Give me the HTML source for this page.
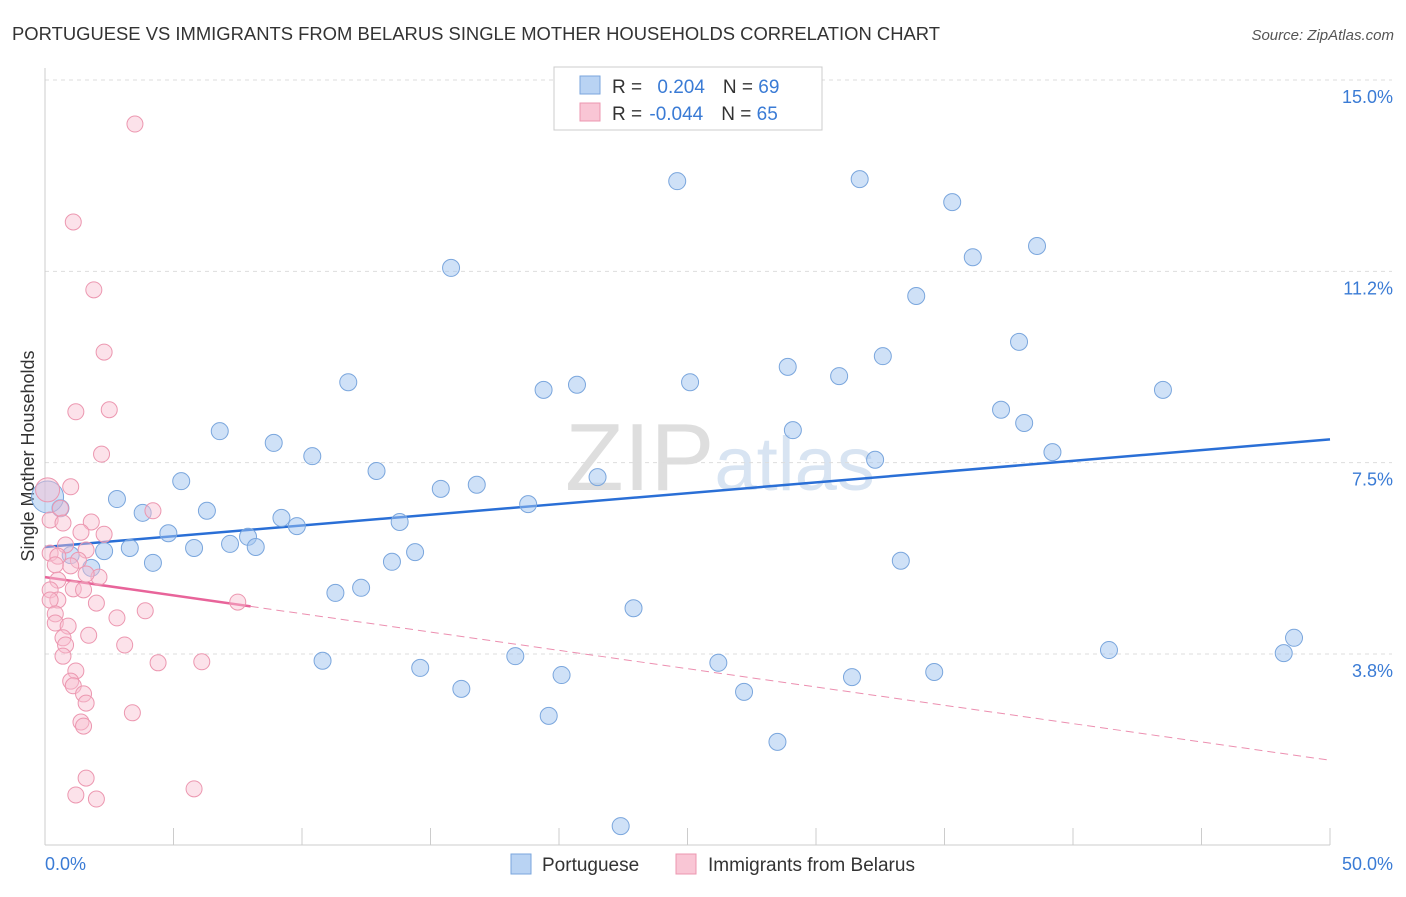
<!DOCTYPE html>
<html><head><meta charset="utf-8"><style>
body{margin:0;background:#fff;font-family:"Liberation Sans",sans-serif;}
svg text{font-family:"Liberation Sans",sans-serif;}
</style></head><body>
<svg id="chart" width="1406" height="892" xmlns="http://www.w3.org/2000/svg">
<text x="12" y="40" font-size="18" fill="#333" textLength="928" lengthAdjust="spacingAndGlyphs">PORTUGUESE VS IMMIGRANTS FROM BELARUS SINGLE MOTHER HOUSEHOLDS CORRELATION CHART</text>
<text x="1394" y="40" font-size="15" fill="#555" font-style="italic" text-anchor="end">Source: ZipAtlas.com</text>
<text x="720" y="490" font-size="96" fill="#e4e4e4" text-anchor="middle" font-family="Liberation Serif"><tspan fill="#dedede">ZIP</tspan><tspan fill="#d8e4f2" font-family="Liberation Sans" font-size="76">atlas</tspan></text>
<text transform="translate(34,456) rotate(-90)" font-size="18" fill="#333" text-anchor="middle">Single Mother Households</text>
<g id="grid"></g><g id="axes"></g><g id="trend"></g><g id="pts"></g>
<g>
<rect x="554" y="67" width="268" height="63" fill="#fff" stroke="#ccc"/>
<rect x="580" y="76" width="20" height="18" fill="#b9d3f3" stroke="#7aa6dd"/>
<rect x="580" y="103" width="20" height="18" fill="#f9c6d5" stroke="#ec97b0"/>
<text x="612" y="93" font-size="19" fill="#333">R = <tspan fill="#3a7bd5" dx="10">0.204</tspan><tspan dx="18">N = </tspan><tspan fill="#3a7bd5">69</tspan></text>
<text x="612" y="120" font-size="19" fill="#333">R = <tspan fill="#3a7bd5" dx="2">-0.044</tspan><tspan dx="18">N = </tspan><tspan fill="#3a7bd5">65</tspan></text>
</g>
<g>
<rect x="511" y="854" width="20" height="20" fill="#b9d3f3" stroke="#7aa6dd"/>
<text x="542" y="871" font-size="19" fill="#333">Portuguese</text>
<rect x="676" y="854" width="20" height="20" fill="#f9c6d5" stroke="#ec97b0"/>
<text x="708" y="871" font-size="19" fill="#333">Immigrants from Belarus</text>
</g>
</svg>
<script>
const xTicks=[0,5,10,15,20,25,30,35,40,45,50];
const yTicks=[15,11.25,7.5,3.75];
const yTickLabels=["15.0%","11.2%","7.5%","3.8%"];
const blueX=[24.6,31.7,35.3,38.6,15.8,36.1,33.9,37.9,32.6,28.9,30.9,11.8,19.4,20.7,25.1,43.5,37.2,38.1,29.1,6.8,8.9,10.4,39.2,32.3,12.9,5.3,21.5,15.4,16.8,2.8,18.8,3.8,6.3,9.2,9.8,13.8,4.8,7.9,7.2,8.2,5.8,3.3,2.3,1.0,14.4,13.5,4.2,33.3,1.8,12.3,11.3,22.9,48.6,41.4,48.2,18.3,10.8,26.2,14.6,20.1,31.4,34.6,16.2,27.2,19.6,28.5,22.4,0.6,0.1];
const blueY=[13.35,13.39,12.94,12.08,11.65,11.86,11.1,10.2,9.92,9.71,9.53,9.41,9.26,9.36,9.41,9.26,8.87,8.61,8.47,8.45,8.22,7.96,8.04,7.89,7.67,7.47,7.55,7.32,7.40,7.12,7.02,6.85,6.89,6.75,6.59,6.67,6.45,6.38,6.24,6.18,6.16,6.16,6.10,6.02,6.08,5.89,5.87,5.91,5.77,5.38,5.28,4.98,4.4,4.16,4.10,4.04,3.95,3.91,3.81,3.67,3.63,3.73,3.40,3.34,2.87,2.36,0.71,6.94,7.16];
const pinkX=[3.5,1.1,1.9,2.3,2.5,1.2,2.2,1.0,4.2,0.6,0.2,0.7,1.8,2.3,1.4,0.8,1.6,0.2,0.5,1.3,1.0,0.4,2.1,0.5,1.6,1.1,0.2,1.5,0.5,0.2,2.0,3.9,7.5,0.4,2.8,0.4,0.9,1.7,0.7,0.8,3.1,0.7,4.4,6.1,1.2,1.0,1.1,1.5,1.6,3.4,1.4,1.5,1.6,1.2,2.0,5.8,0.1];
const pinkY=[14.47,12.55,11.22,10.0,8.87,8.83,8.0,7.36,6.89,6.94,6.71,6.65,6.67,6.43,6.47,6.22,6.12,6.06,6.0,5.92,5.81,5.83,5.59,5.53,5.65,5.36,5.34,5.34,5.14,5.14,5.08,4.93,5.10,4.87,4.79,4.69,4.63,4.45,4.40,4.26,4.26,4.04,3.91,3.93,3.75,3.55,3.46,3.30,3.12,2.93,2.75,2.67,1.65,1.32,1.24,1.44,7.30];
const blueTrend=[6.18,8.29];
const pinkTrend=[5.59,2.0];
const pinkSolidEnd=8;
const X=v=>45+v/50*1285, Y=v=>97+(15-v)*51.02;
const NS="http://www.w3.org/2000/svg";
function mk(p,t,a){const e=document.createElementNS(NS,t);for(const k in a)e.setAttribute(k,a[k]);document.getElementById(p).appendChild(e);return e;}
yTicks.forEach((t,i)=>{
 const g=mk('grid','line',{x1:45,x2:1392,y1:Y(t)-17,y2:Y(t)-17,stroke:'#ddd','stroke-dasharray':'4,4'});
 
 
 const l=mk('grid','text',{x:1393,y:Y(t)+6,'font-size':18,fill:'#3a7bd5','text-anchor':'end'});
 l.textContent=yTickLabels[i];
 
 
});
const ax=mk('axes','line',{x1:45,x2:1330,y1:845,y2:845,stroke:'#ccc'});


const ay=mk('axes','line',{x1:45,x2:45,y1:68,y2:845,stroke:'#ccc'});


xTicks.forEach(t=>{
 const k=mk('axes','line',{x1:X(t),x2:X(t),y1:828,y2:845,stroke:'#ccc'});
 
 
});
const xl0=mk('axes','text',{x:45,y:870,'font-size':18,fill:'#3a7bd5'});xl0.textContent='0.0%';


const xl1=mk('axes','text',{x:1393,y:870,'font-size':18,fill:'#3a7bd5','text-anchor':'end'});xl1.textContent='50.0%';


blueX.forEach((x,i)=>{
 const c=mk('pts','circle',{cx:X(x),cy:Y(blueY[i]),r:(i==blueX.length-1)?16:8.5,fill:'rgba(160,196,240,0.5)',stroke:'#7aa6dd','stroke-width':1});
 
 
});
pinkX.forEach((x,i)=>{
 const c=mk('pts','circle',{cx:X(x),cy:Y(pinkY[i]),r:(i==pinkX.length-1)?12:8,fill:'rgba(248,190,208,0.45)',stroke:'#ec97b0','stroke-width':1});
 
 
});
const bt=mk('trend','line',{x1:X(0),y1:Y(blueTrend[0]),x2:X(50),y2:Y(blueTrend[1]),stroke:'#2a6fd6','stroke-width':2.5});


const pAt=v=>pinkTrend[0]+(pinkTrend[1]-pinkTrend[0])*v/50;
const ps=mk('trend','line',{x1:X(0),y1:Y(pinkTrend[0]),x2:X(pinkSolidEnd),y2:Y(pAt(pinkSolidEnd)),stroke:'#e8649a','stroke-width':2.5});


const pd=mk('trend','line',{x1:X(pinkSolidEnd),y1:Y(pAt(pinkSolidEnd)),x2:X(50),y2:Y(pinkTrend[1]),stroke:'#ec8fb0','stroke-width':1,'stroke-dasharray':'8,5'});


</script>
</body></html>
